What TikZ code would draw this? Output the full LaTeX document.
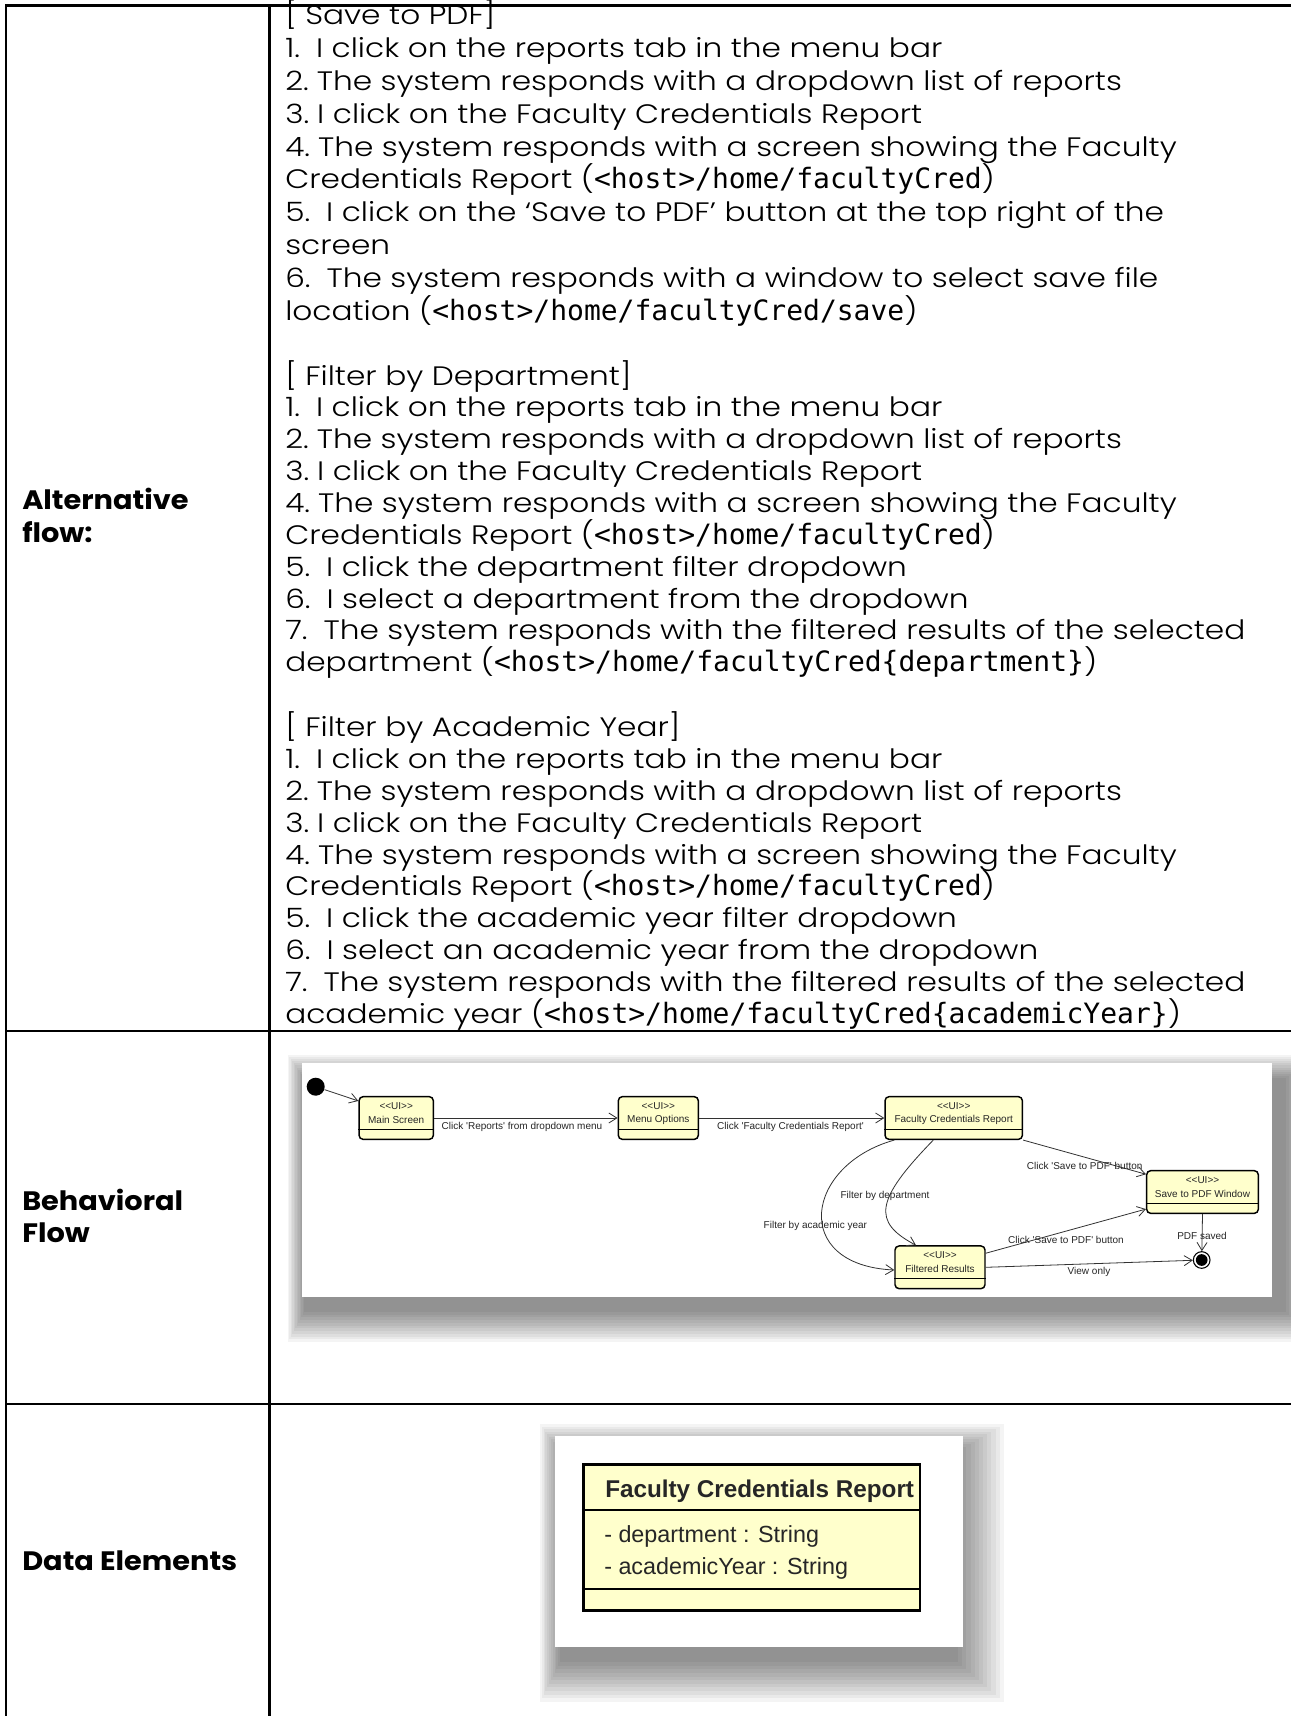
\documentclass[tikz,border=0pt]{standalone}
\usepackage{fontspec}
\setmainfont{Poppins}[UprightFont=* Light, UprightFeatures={FakeStretch=1.17}, BoldFont=* Bold, BoldFeatures={FakeStretch=1.08}]
\newfontfamily\monof{DejaVu Sans Mono}
\newfontfamily\arialf{Liberation Sans}
\usetikzlibrary{arrows.meta,calc}
\definecolor{uiyellow}{RGB}{255,255,204}
\definecolor{edgegray}{RGB}{50,50,50}
\newcommand\mainsz{\fontsize{20}{24}\selectfont}
\newcommand\mono[1]{{\monof\fontsize{21}{24}\selectfont #1}}
\newcommand\nw[1]{#1\hspace{0.6em}}
\newcommand\nn[1]{#1\hspace{0.3em}}
\newcommand\sq{\textquotesingle}
\newcommand\softshadow[8]{%
  \foreach \k in {0,...,11}{%
    \fill[black,opacity=0.045] ({#1+(#5-#1)*\k/11},{#2+(#6-#2)*\k/11}) rectangle ({#3+(#7-#3)*\k/11},{#4+(#8-#4)*\k/11});
  }}
\newcommand\uistate[5]{%
  \node[uibox, minimum width=#4] (#1) at (#2,#3) {};
  \draw[line width=0.8pt] ($(#1.south west)+(0,-10.6)$) -- ($(#1.south east)+(0,-10.6)$);
  \node[dtxt] at ($(#1.north)+(0,10)$) {<\kern0pt<UI>\kern0pt>};
  \node[dtxt] at ($(#1.north)+(0,23.5)$) {#5};
}
\tikzset{
  txt/.style={anchor=base west, inner sep=0pt, font=\mainsz},
  lab/.style={anchor=base west, inner sep=0pt, font=\mainsz\bfseries},
  grid/.style={line width=1.6pt, black},
  uibox/.style={draw=black, line width=1.1pt, fill=uiyellow, rounded corners=3pt, inner sep=0pt, minimum height=32pt},
  dtxt/.style={inner sep=0pt, font=\arialf\fontsize{7.5}{8}\selectfont, text=black!85},
  elbl/.style={inner sep=0pt, font=\arialf\fontsize{7.5}{8}\selectfont, text=black!85},
  arr/.style={draw=edgegray, line width=0.6pt, -{Straight Barb[length=6pt,width=7.5pt]}},
  ctxt/.style={anchor=west, inner sep=0pt, font=\arialf\fontsize{17.5}{20}\selectfont, text=black!85},
}
\begin{document}
\begin{tikzpicture}[x=0.75pt,y=-0.75pt]
\useasboundingbox (0,0) rectangle (1291,1716);
\fill[white] (0,0) rectangle (1291,1716);

% ---------------- main text ----------------
\node[txt] (t0) at (285,{25+32.8*0}) {[ Save to PDF]};
\node[txt] (t1) at (285,{25+32.8*1}) {\nw{1.}I click on the reports tab in the menu bar};
\node[txt] (t2) at (285,{25+32.8*2}) {\nn{2.}The system responds with a dropdown list of reports};
\node[txt] (t3) at (285,{25+32.8*3}) {\nn{3.}I click on the Faculty Credentials Report};
\node[txt] (t4) at (285,{25+32.8*4}) {\nn{4.}The system responds with a screen showing the Faculty};
\node[txt] (t5) at (285,{25+32.8*5}) {Credentials Report (\mono{<host>/home/facultyCred})};
\node[txt] (t6) at (285,{25+32.8*6}) {\nw{5.}I click on the ‘Save to PDF’ button at the top right of the};
\node[txt] (t7) at (285,{25+32.8*7}) {screen};
\node[txt] (t8) at (285,{25+32.8*8}) {\nw{6.}The system responds with a window to select save file};
\node[txt] (t9) at (285,{25+32.8*9}) {location (\mono{<host>/home/facultyCred/save})};

\node[txt] (d0) at (285,{385+31.86*0}) {[ Filter by Department]};
\node[txt] (d1) at (285,{385+31.86*1}) {\nw{1.}I click on the reports tab in the menu bar};
\node[txt] (d2) at (285,{385+31.86*2}) {\nn{2.}The system responds with a dropdown list of reports};
\node[txt] (d3) at (285,{385+31.86*3}) {\nn{3.}I click on the Faculty Credentials Report};
\node[txt] (d4) at (285,{385+31.86*4}) {\nn{4.}The system responds with a screen showing the Faculty};
\node[txt] (d5) at (285,{385+31.86*5}) {Credentials Report (\mono{<host>/home/facultyCred})};
\node[txt] (d6) at (285,{385+31.86*6}) {\nw{5.}I click the department filter dropdown};
\node[txt] (d7) at (285,{385+31.86*7}) {\nw{6.}I select a department from the dropdown};
\node[txt] (d8) at (285,{385+31.86*8}) {\nw{7.}The system responds with the filtered results of the selected};
\node[txt] (d9) at (285,{385+31.86*9}) {department (\mono{<host>/home/facultyCred\{department\}})};

\node[txt] (a0) at (285,{736.2+31.95*0}) {[ Filter by Academic Year]};
\node[txt] (a1) at (285,{736.2+31.95*1}) {\nw{1.}I click on the reports tab in the menu bar};
\node[txt] (a2) at (285,{736.2+31.95*2}) {\nn{2.}The system responds with a dropdown list of reports};
\node[txt] (a3) at (285,{736.2+31.95*3}) {\nn{3.}I click on the Faculty Credentials Report};
\node[txt] (a4) at (285,{736.2+31.95*4}) {\nn{4.}The system responds with a screen showing the Faculty};
\node[txt] (a5) at (285,{736.2+31.95*5}) {Credentials Report (\mono{<host>/home/facultyCred})};
\node[txt] (a6) at (285,{736.2+31.95*6}) {\nw{5.}I click the academic year filter dropdown};
\node[txt] (a7) at (285,{736.2+31.95*7}) {\nw{6.}I select an academic year from the dropdown};
\node[txt] (a8) at (285,{736.2+31.95*8}) {\nw{7.}The system responds with the filtered results of the selected};
\node[txt] (a9) at (285,{736.2+31.95*9}) {academic year (\mono{<host>/home/facultyCred\{academicYear\}})};

% ---------------- left labels ----------------
\node[lab] (l1) at (22,509.5) {Alternative};
\node[lab] (l2) at (22,542.5) {flow:};
\node[lab] (l3) at (22,1210) {Behavioral};
\node[lab] (l4) at (22,1242) {Flow};
\node[lab] (l5) at (22,1570) {Data Elements};

% ---------------- behavioral flow picture ----------------
\softshadow{288}{1055}{1320}{1342}{304}{1078}{1286}{1312}
\fill[white] (302,1063) rectangle (1272,1297);

\node[circle, fill=black, minimum size=13.5pt, inner sep=0pt] (init) at (315.7,1086.7) {};
\uistate{ms}{396.2}{1118}{55.7pt}{Main Screen}
\uistate{mo}{658.3}{1118}{60pt}{Menu Options}
\uistate{fcr}{953.7}{1118}{103pt}{Faculty Credentials Report}
\uistate{spw}{1202.5}{1192}{83.7pt}{Save to PDF Window}
\uistate{fr}{940}{1267.3}{67.5pt}{Filtered Results}
\node[circle, draw=black, line width=0.8pt, fill=white, minimum size=12.5pt, inner sep=0pt] (fin) at (1201.7,1260) {};
\fill[black] (fin.center) circle[radius=4.4pt];

\draw[arr] (init) -- ($(ms.north west)+(0,5)$);
\draw[arr] (ms.east) -- (mo.west);
\draw[arr] (mo.east) -- (fcr.west);
\draw[arr] (fcr.south east) -- ($(spw.north west)+(0,4.3)$);
\draw[arr] ($(fcr.south)+(-20.4,0)$) .. controls (875,1200) and (872,1222) .. ($(fr.north)+(-24,0)$);
\draw[arr] ($(fcr.south west)+(10,0)$) .. controls (805,1165) and (790,1265) .. ($(fr.west)+(0,2.7)$);
\draw[arr] ($(fr.north east)+(0,8)$) -- ($(spw.south west)+(0,-5)$);
\draw[arr] (fr.east) -- (fin);
\draw[arr] (spw.south) -- (fin);

\node[elbl] (e1) at (522,1126.7) {Click \sq Reports\sq{} from dropdown menu};
\node[elbl] (e2) at (790.5,1126.7) {Click \sq Faculty Credentials Report\sq};
\node[elbl] (e3) at (1084.7,1165.7) {Click \sq Save to PDF\sq{} button};
\node[elbl] (e4) at (885,1196) {Filter by department};
\node[elbl] (e5) at (815.4,1225.7) {Filter by academic year};
\node[elbl] (e6) at (1066,1240) {Click \sq Save to PDF\sq{} button};
\node[elbl] (e7) at (1089,1271.7) {View only};
\node[elbl] (e8) at (1202,1235.7) {PDF saved};

% ---------------- data elements picture ----------------
\softshadow{540}{1424}{1004}{1702}{560}{1452}{958}{1662}
\fill[white] (555,1436) rectangle (962.7,1646.7);
\node[draw=black, line width=2.1pt, fill=uiyellow, minimum width=252.5pt, minimum height=109.8pt, inner sep=0pt] (cls) at (751.7,1537.5) {};
\draw[line width=1.1pt] (cls.west |- 0,1510) -- (cls.east |- 0,1510);
\draw[line width=1.1pt] (cls.west |- 0,1589) -- (cls.east |- 0,1589);
\node[ctxt, font=\arialf\bfseries\fontsize{18.2}{20}\selectfont] (ch) at (605,1491) {Faculty Credentials Report};
\node[ctxt] (c1) at (604,1536.7) {- department : String};
\node[ctxt] (c2) at (604,1568.3) {- academicYear : String};

% ---------------- table grid ----------------
\draw[grid] (5,5.5) -- (1291,5.5);
\draw[grid] (5,1030.7) -- (1291,1030.7);
\draw[grid] (5,1404.3) -- (1291,1404.3);
\draw[grid] (6,4.7) -- (6,1716);
\draw[grid] (269.5,4.7) -- (269.5,1716);
\end{tikzpicture}
\end{document}
